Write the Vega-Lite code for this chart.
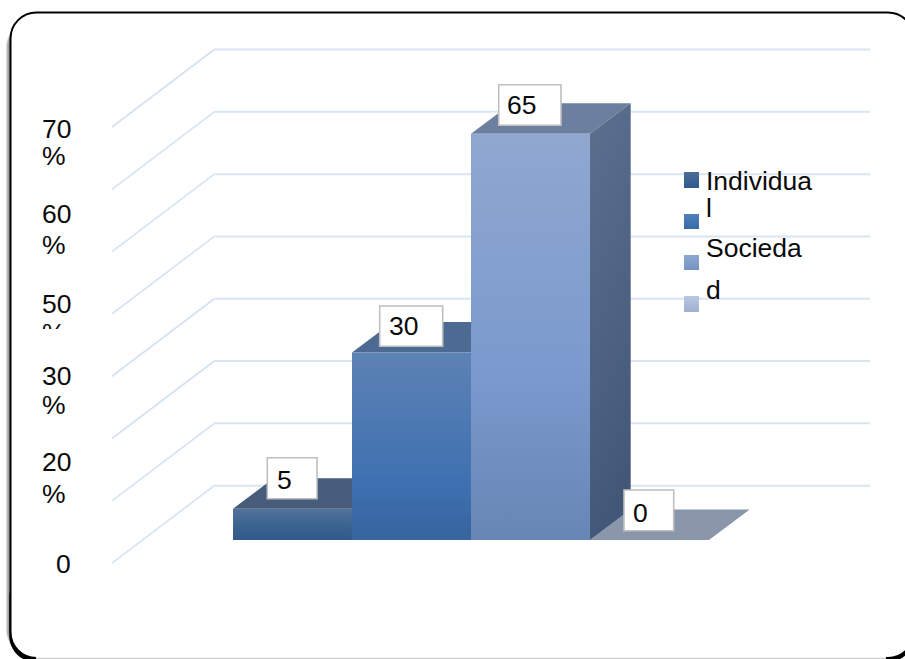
{
"$schema":"https://vega.github.io/schema/vega-lite/v6.json",
"width":905,"height":659,"padding":0,"autosize":{"type":"none"},
"background":"white",
"config":{"view":{"stroke":null},"text":{"font":"Liberation Sans","fontSize":26.5,"color":"#0a0a0a","align":"left","baseline":"alphabetic"}},
"encoding":{
"x":{"field":"x","type":"quantitative","title":null,"axis":null,"scale":{"domain":[-1.95798,5.64706],"nice":false,"zero":false}},
"y":{"field":"y","type":"quantitative","title":null,"axis":null,"scale":{"domain":[-19.04,86.4],"nice":false,"zero":false}}
},
"layer":[
{"data":{"values":[{"x":-1.9,"x2":5.7227,"y":83,"y2":-18.5},{"x":-1.907,"x2":5.7227,"y":83,"y2":-18.5},{"x":-1.89,"x2":5.7227,"y":83,"y2":-18.5}]},
 "mark":{"type":"rect","color":"#000000","opacity":0.15,"cornerRadius":26},
 "encoding":{"x2":{"field":"x2"},"y2":{"field":"y2"}}},
{"data":{"values":[{"x":-1.8798,"x2":5.7227,"y":-5,"y2":-19.52}]},
 "mark":{"type":"rect","color":"#000000","cornerRadius":26},
 "encoding":{"x2":{"field":"x2"},"y2":{"field":"y2"}}},
{"data":{"values":[{"x":-1.8697,"x2":5.7227,"y":84.4,"y2":-18.88}]},
 "mark":{"type":"rect","fill":"#ffffff","stroke":"#000000","strokeWidth":2,"cornerRadius":26},
 "encoding":{"x2":{"field":"x2"},"y2":{"field":"y2"}}},
{"data":{"values":[{"x":-1.6555,"x2":5.4874,"y":-18.88}]},
 "mark":{"type":"rule","color":"#ffffff","strokeWidth":5},
 "encoding":{"x2":{"field":"x2"}}},
{"data":{"values":[{"x":-1.6555,"x2":5.4874,"y":-18.95}]},
 "mark":{"type":"rule","color":"#cfcfcf","strokeWidth":1.2},
 "encoding":{"x2":{"field":"x2"}}},
{"data":{"name":"diagonales","values":[
{"nivel":70,"x":-1.0168,"y":66.08,"x2":-0.1571,"y2":78.48},
{"nivel":60,"x":-1.0168,"y":56.11,"x2":-0.1571,"y2":68.51},
{"nivel":50,"x":-1.0168,"y":46.14,"x2":-0.1571,"y2":58.54},
{"nivel":40,"x":-1.0168,"y":36.18,"x2":-0.1571,"y2":48.58},
{"nivel":30,"x":-1.0168,"y":26.2,"x2":-0.1571,"y2":38.6},
{"nivel":20,"x":-1.0168,"y":16.24,"x2":-0.1571,"y2":28.64},
{"nivel":10,"x":-1.0168,"y":6.27,"x2":-0.1571,"y2":18.67},
{"nivel":0,"x":-1.0168,"y":-3.7,"x2":-0.1571,"y2":8.7}]},
 "mark":{"type":"rule","color":"#d5e2f3","strokeWidth":1.6},
 "encoding":{"x2":{"field":"x2"},"y2":{"field":"y2"}}},
{"data":{"values":[
{"nivel":70,"x":-0.1571,"x2":5.3529,"y":78.48},
{"nivel":60,"x":-0.1571,"x2":5.3529,"y":68.51},
{"nivel":50,"x":-0.1571,"x2":5.3529,"y":58.54},
{"nivel":40,"x":-0.1571,"x2":5.3529,"y":48.58},
{"nivel":30,"x":-0.1571,"x2":5.3529,"y":38.6},
{"nivel":20,"x":-0.1571,"x2":5.3529,"y":28.64},
{"nivel":10,"x":-0.1571,"x2":5.3529,"y":18.67},
{"nivel":0,"x":-0.1571,"x2":5.3529,"y":8.7}]},
 "mark":{"type":"rule","color":"#dae5f4","strokeWidth":2},
 "encoding":{"x2":{"field":"x2"}}},
{"data":{"values":[{"serie":4,"x":3,"x2":4,"y":0},{"serie":4,"x":3.342,"x2":4.342,"y":4.9}]},
 "mark":{"type":"area","orient":"horizontal","color":"#8a97ab"},
 "encoding":{"x2":{"field":"x2"}}},
{"data":{"values":[{"serie":1,"x":0,"x2":1,"y":5},{"serie":1,"x":0.342,"x2":1.342,"y":9.9}]},
 "mark":{"type":"area","orient":"horizontal","color":"#475b7b"},
 "encoding":{"x2":{"field":"x2"}}},
{"data":{"values":[{"serie":1,"x":0,"x2":1,"y":5,"y2":0}]},
 "mark":{"type":"rect","color":{"gradient":"linear","x1":0,"y1":0,"x2":0,"y2":1,"stops":[{"offset":0,"color":"#52729c"},{"offset":0.6,"color":"#39628f"},{"offset":1,"color":"#2f5a8d"}]}},
 "encoding":{"x2":{"field":"x2"},"y2":{"field":"y2"}}},
{"data":{"values":[{"serie":2,"x":1,"x2":2,"y":30},{"serie":2,"x":1.342,"x2":2.342,"y":34.9}]},
 "mark":{"type":"area","orient":"horizontal","color":"#4c6a92"},
 "encoding":{"x2":{"field":"x2"}}},
{"data":{"values":[{"serie":2,"x":1,"x2":2,"y":30,"y2":0}]},
 "mark":{"type":"rect","color":{"gradient":"linear","x1":0,"y1":0,"x2":0,"y2":1,"stops":[{"offset":0,"color":"#5d82b5"},{"offset":0.7,"color":"#3e70b0"},{"offset":1,"color":"#36659f"}]}},
 "encoding":{"x2":{"field":"x2"},"y2":{"field":"y2"}}},
{"data":{"values":[{"serie":3,"x":2,"x2":3,"y":65},{"serie":3,"x":2.342,"x2":3.342,"y":69.9}]},
 "mark":{"type":"area","orient":"horizontal","color":"#6c7f9f"},
 "encoding":{"x2":{"field":"x2"}}},
{"data":{"values":[{"serie":3,"x":3,"y":65,"y2":0},{"serie":3,"x":3.342,"y":69.9,"y2":4.9}]},
 "mark":{"type":"area","orient":"vertical","color":{"gradient":"linear","x1":0,"y1":0,"x2":0.2,"y2":1,"stops":[{"offset":0,"color":"#5e6f8e"},{"offset":1,"color":"#435879"}]}},
 "encoding":{"y2":{"field":"y2"}}},
{"data":{"values":[{"serie":3,"x":2,"x2":3,"y":65,"y2":0}]},
 "mark":{"type":"rect","color":{"gradient":"linear","x1":0,"y1":0,"x2":0,"y2":1,"stops":[{"offset":0,"color":"#90a8d0"},{"offset":0.6,"color":"#7a99cd"},{"offset":1,"color":"#6786b5"}]}},
 "encoding":{"x2":{"field":"x2"},"y2":{"field":"y2"}}},
{"data":{"values":[
{"x":2.2328,"x2":2.7563,"y":72.85,"y2":66.35},
{"x":1.2328,"x2":1.7622,"y":37.44,"y2":30.99},
{"x":0.2882,"x2":0.7059,"y":13.17,"y2":6.61},
{"x":3.2857,"x2":3.7034,"y":8,"y2":1.49}]},
 "mark":{"type":"rect","fill":"#ffffff","stroke":"#bfbfbf","strokeWidth":1.6},
 "encoding":{"x2":{"field":"x2"},"y2":{"field":"y2"}}},
{"data":{"values":[
{"x":2.3025,"y":68.11,"texto":"65"},
{"x":1.311,"y":32.8,"texto":"30"},
{"x":0.3697,"y":8.16,"texto":"5"},
{"x":3.3613,"y":2.93,"texto":"0"}]},
 "mark":{"type":"text"},
 "encoding":{"text":{"field":"texto"}}},
{"data":{"values":[
{"x":-1.605,"y":64.32,"texto":"70"},
{"x":-1.605,"y":60,"texto":"%"},
{"x":-1.605,"y":50.72,"texto":"60"},
{"x":-1.605,"y":45.76,"texto":"%"},
{"x":-1.605,"y":36.32,"texto":"50"},
{"x":-1.605,"y":31.68,"texto":"%"},
{"x":-1.605,"y":24.8,"texto":"30"},
{"x":-1.605,"y":20.16,"texto":"%"},
{"x":-1.605,"y":11.1,"texto":"20"},
{"x":-1.605,"y":5.92,"texto":"%"},
{"x":-1.4874,"y":-5.28,"texto":"0"}]},
 "mark":{"type":"text"},
 "encoding":{"text":{"field":"texto"}}},
{"data":{"values":[{"x":-1.639,"x2":-1.3025,"y":33.76,"y2":30.4}]},
 "mark":{"type":"rect","color":"#ffffff"},
 "encoding":{"x2":{"field":"x2"},"y2":{"field":"y2"}}},
{"data":{"values":[{"x":3.7899,"x2":3.916,"y":58.88,"y2":56.32}]},
 "mark":{"type":"rect","color":{"gradient":"linear","x1":0,"y1":0,"x2":0,"y2":1,"stops":[{"offset":0,"color":"#4a6d98"},{"offset":1,"color":"#2f5a8e"}]}},
 "encoding":{"x2":{"field":"x2"},"y2":{"field":"y2"}}},
{"data":{"values":[{"x":3.7899,"x2":3.916,"y":52.16,"y2":49.76}]},
 "mark":{"type":"rect","color":{"gradient":"linear","x1":0,"y1":0,"x2":0,"y2":1,"stops":[{"offset":0,"color":"#5080ba"},{"offset":1,"color":"#366aa8"}]}},
 "encoding":{"x2":{"field":"x2"},"y2":{"field":"y2"}}},
{"data":{"values":[{"x":3.7899,"x2":3.916,"y":45.6,"y2":43.2}]},
 "mark":{"type":"rect","color":{"gradient":"linear","x1":0,"y1":0,"x2":0,"y2":1,"stops":[{"offset":0,"color":"#8ea8d2"},{"offset":1,"color":"#7493c4"}]}},
 "encoding":{"x2":{"field":"x2"},"y2":{"field":"y2"}}},
{"data":{"values":[{"x":3.7899,"x2":3.916,"y":39.04,"y2":36.48}]},
 "mark":{"type":"rect","color":{"gradient":"linear","x1":0,"y1":0,"x2":0,"y2":1,"stops":[{"offset":0,"color":"#b8c7e2"},{"offset":1,"color":"#9fb1cf"}]}},
 "encoding":{"x2":{"field":"x2"},"y2":{"field":"y2"}}},
{"data":{"values":[
{"x":3.9748,"y":56,"texto":"Individua"},
{"x":3.9748,"y":51.68,"texto":"l"},
{"x":3.9748,"y":45.28,"texto":"Socieda"},
{"x":3.9748,"y":38.56,"texto":"d"}]},
 "mark":{"type":"text"},
 "encoding":{"text":{"field":"texto"}}}
]
}
